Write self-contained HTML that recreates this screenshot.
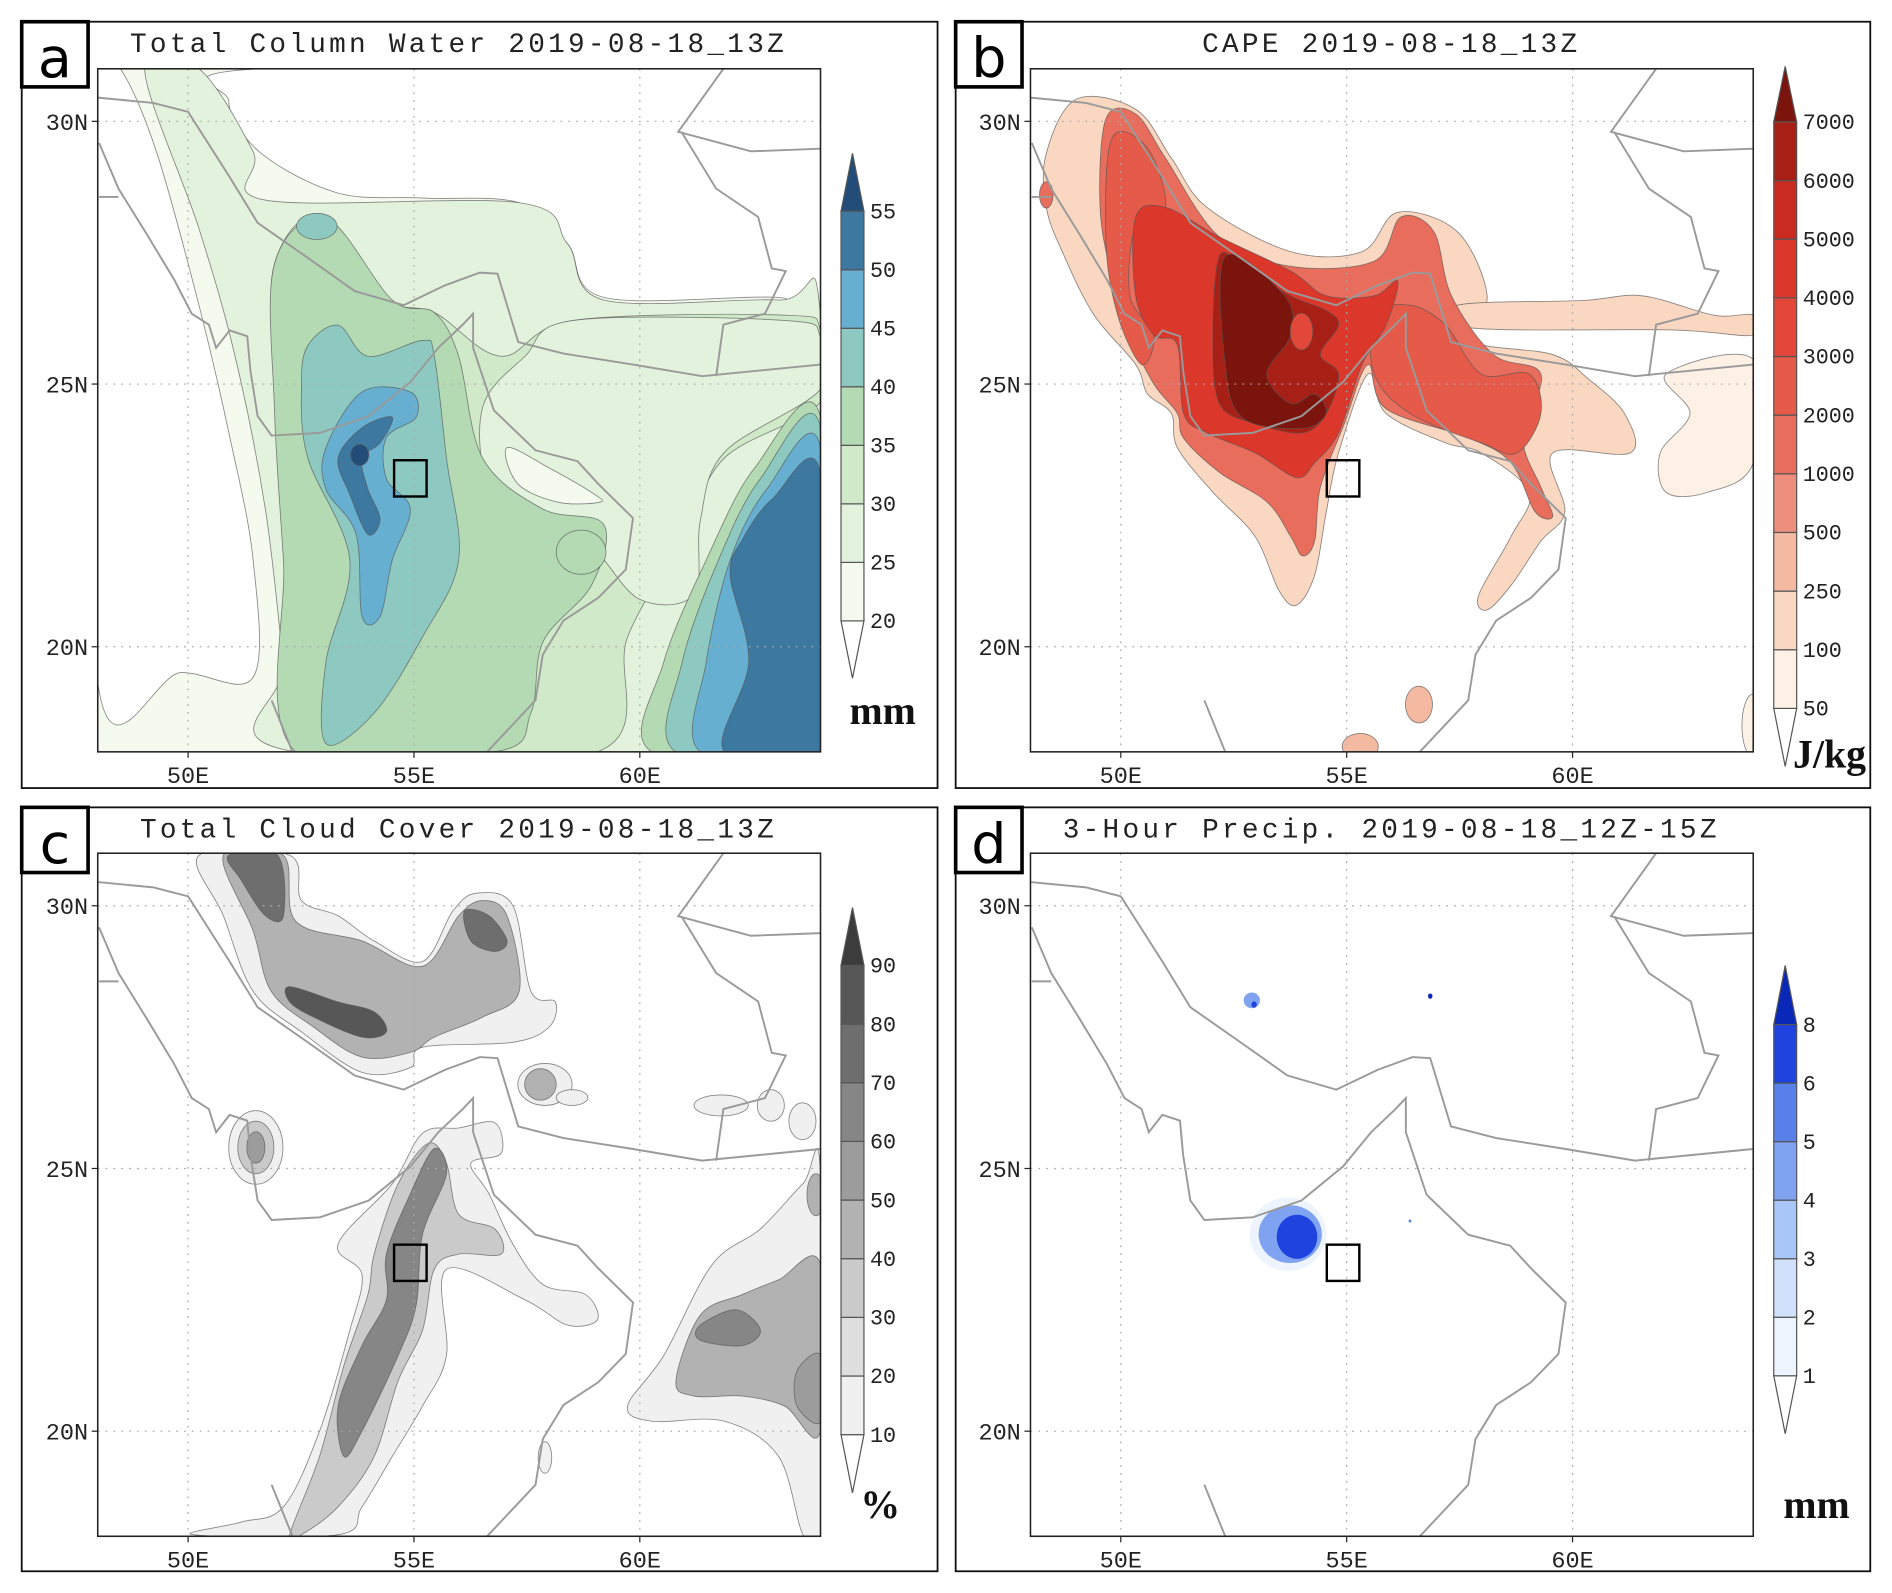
<!DOCTYPE html>
<html><head><meta charset="utf-8"><title>WRF fields 2019-08-18</title>
<style>
html,body{margin:0;padding:0;background:#fff;}
svg{display:block;}
.ttl{font-family:"Liberation Mono",monospace;font-size:23px;letter-spacing:2.7px;fill:#222;}
.tick{font-family:"Liberation Mono",monospace;font-size:19.5px;fill:#222;}
.cbl{font-family:"Liberation Mono",monospace;font-size:18px;fill:#222;}
.unit{font-family:"Liberation Serif",serif;font-size:33px;font-weight:bold;fill:#111;}
.let{font-family:"DejaVu Sans","Liberation Sans",sans-serif;font-size:46px;fill:#000;}
</style></head>
<body>
<svg id="fig" width="1892" height="1593" viewBox="0 0 1568 1320" preserveAspectRatio="none" xmlns="http://www.w3.org/2000/svg"></svg>
<script>
// ---------- data ----------
const lonTicks=[50,55,60];
const latTicks=[20,25,30];
const lonTickLabels=["50E","55E","60E"];
const latTickLabels=["20N","25N","30N"];
const studyBox=[[54.56,23.55],[55.28,22.86]];

const tcwLevels=[20,25,30,35,40,45,50,55];
const tcwColors=["#f5faef","#e3f2dc","#d0e9c8","#b4dab3","#8ec9c1","#67afd0","#3c789f","#224d78"];
const capeLevels=[50,100,250,500,1000,2000,3000,4000,5000,6000,7000];
const capeColors=["#fdf0e5","#f9d7c0","#f4baa1","#ee8e7d","#e96d5d","#e55a48","#e3473a","#dc372b","#c92b20","#a81f16","#7c140e"];
const cldLevels=[10,20,30,40,50,60,70,80,90];
const cldColors=["#f0f0f0","#dedede","#cacaca","#b2b2b2","#9c9c9c","#868686","#6e6e6e","#575757","#3c3c3c"];
const prcLevels=[1,2,3,4,5,6,8];
const prcColors=["#eef4fe","#d2e1fb","#a8c6f8","#7fa2f1","#5880ea","#1f43df","#0a28b8"];

// coastline & borders (lon,lat)
const coastIran=[[48,30.45],[49.23,30.35],[50,30.18],[50.92,28.94],[51.54,28.07],[52.62,27.42],[53.69,26.77],[54.77,26.5],[55.69,26.88],[56.46,27.12],[56.85,27.1],[57.31,25.8],[58.31,25.58],[59.85,25.37],[61.38,25.15],[64,25.37]];
const coastArabia=[[48.03,29.59],[48.46,28.72],[49.08,27.86],[49.69,26.99],[50.08,26.34],[50.46,26.13],[50.62,25.69],[50.92,26.02],[51.31,25.91],[51.38,25.26],[51.54,24.39],[51.85,24.02],[52.92,24.07],[54.0,24.39],[54.92,25.04],[55.54,25.69],[56.08,26.13],[56.31,26.34],[56.31,25.69],[56.77,24.5],[57.69,23.74],[58.62,23.53],[59.08,23.1],[59.85,22.45],[59.69,21.47],[59.08,20.93],[58.31,20.5],[57.85,19.85],[57.69,18.98],[56.62,18.0]];
const border1=[[61.85,31.0],[60.85,29.8],[62.46,29.43],[64,29.48]];
const border2=[[60.92,29.8],[61.69,28.72],[62.62,28.18],[62.92,27.2],[63.23,27.15],[62.77,26.34],[61.85,26.13],[61.69,25.15]];
const border3=[[51.85,18.98],[52.31,18.0]];
const border4=[[48.03,28.56],[48.46,28.56]];

// TCW contour regions (lon,lat)
const tcwWhiteNE=[[51.58,31],[64,31],[64,26.36],[63.07,26.65],[59.2,26.65],[58.4,27.67],[57.33,28.45],[55.19,28.54],[53.3,28.64],[51.58,29.42],[50.9,30.39]];
const tcwWhiteW=[[48,31],[48.5,31],[49.3,29.42],[50.24,26.5],[50.9,24.08],[51.44,21.65],[51.44,19.42],[49.84,19.51],[48,19.32]];
const tcw25=[[49.04,31],[50.24,31],[51.44,29.42],[51.71,28.5],[57.33,28.45],[58.4,27.67],[59.2,26.6],[63.07,26.6],[64,26.31],[64,18],[52.38,18],[52.11,19.71],[51.71,22.62],[51.04,25.53],[50.24,27.96]];
const tcw30=[[51.91,27.28],[52.78,28.16],[54.12,26.89],[54.39,26.5],[55.45,26.36],[56.93,25.53],[58.53,26.21],[63.2,26.31],[64,26.02],[64,24.66],[61.87,23.59],[60.94,22.04],[59.73,20.19],[59.06,18],[52.78,18],[52.51,19.71],[52.11,22.62],[51.91,25.53]];
const tcw25hole=[[56.52,24.56],[57.46,25.53],[58.53,26.21],[63.2,26.21],[64,25.9],[64,24.9],[61.87,23.7],[61.34,22.4],[61.2,21.0],[60.0,20.9],[58.9,21.9],[57.73,22.04],[56.66,23.0]];
const tcw20hole=[[57.06,23.79],[58.0,23.4],[59.0,22.9],[59.1,22.75],[58.2,22.75],[57.3,23.1]];
const tcw35=[[51.91,27.28],[53.05,28.16],[54.52,26.6],[55.45,26.36],[55.99,25.53],[56.52,23.59],[57.86,22.62],[59.2,22.33],[58.93,21.17],[57.86,20.1],[57.59,18.74],[56.79,18],[52.38,18],[52.11,21.65],[51.91,24.56]];
const tcw40=[[52.65,25.73],[53.32,26.12],[53.98,25.53],[55.19,25.83],[55.45,25.53],[55.72,23.59],[55.99,21.65],[55.19,20.19],[54.12,18.74],[53.05,18.16],[53.05,19.71],[53.58,21.65],[52.65,23.59],[52.51,24.95]];
const tcw45=[[53.05,23.79],[53.85,24.85],[54.92,24.85],[55.05,24.37],[54.39,23.98],[54.39,23.2],[54.92,22.62],[54.52,21.65],[54.25,20.58],[53.85,20.58],[53.72,22.14],[53.05,23.0]];
const tcw50=[[53.32,23.59],[53.85,24.17],[54.52,24.37],[54.25,23.88],[53.85,23.59],[53.98,23.0],[54.25,22.43],[53.98,22.14],[53.58,22.9]];
const tcwE35=[[64,24.37],[62.54,23.4],[61.47,21.65],[60.53,19.71],[60.27,18],[64,18]];
const tcwE40=[[64,24.17],[62.67,23.2],[61.74,21.65],[60.94,19.71],[60.8,18],[64,18]];
const tcwE45=[[64,23.79],[62.81,23.0],[62.0,21.65],[61.47,19.71],[61.34,18],[64,18]];
const tcwE50=[[64,23.3],[62.94,22.82],[62.27,22.04],[62.0,21.36],[62.41,19.71],[61.87,18],[64,18]];
// blobs: [lon, lat, rLon, rLat, levelIndex]
const tcwBlobs=[[58.7,21.8,0.55,0.42,3],[52.85,28.0,0.45,0.25,4],[53.8,23.65,0.2,0.2,7]];

// CAPE regions
const capeEnv=[[48.35,29.39],[49.01,30.42],[50.33,30.23],[51.12,29.3],[51.91,28.36],[53.76,27.52],[55.34,27.52],[56.13,28.27],[57.45,27.9],[58.11,26.68],[57.72,25.84],[59.56,25.56],[60.36,25.09],[61.15,24.44],[61.28,23.69],[59.56,23.69],[59.83,22.57],[59.3,22.01],[58.64,21.17],[58.11,20.7],[57.92,20.98],[58.64,22.1],[59.04,22.94],[57.98,23.69],[57.19,23.88],[55.87,24.44],[55.47,25.19],[54.82,23.69],[54.55,22.57],[54.29,21.36],[53.89,20.79],[53.5,21.07],[52.97,22.1],[52.04,22.94],[51.25,23.79],[51.12,24.44],[50.59,24.81],[50.33,25.37],[49.41,26.31],[48.75,27.43],[48.35,28.36]];
const capeBand=[[57.45,26.5],[60.22,26.59],[61.54,26.68],[63.13,26.31],[64,26.31],[64,25.93],[62.2,26.03],[57.72,26.07]];
const capeSE=[[62.07,25.19],[64,25.47],[64,23.5],[62.99,22.94],[62.07,22.94],[61.94,23.69],[62.6,24.44]];
const cape1000=[[49.67,30.05],[50.33,30.14],[50.99,29.3],[52.18,27.8],[53.76,27.24],[55.61,27.34],[56.2,28.18],[56.93,27.9],[57.32,26.68],[58.25,25.56],[59.3,25.19],[58.9,23.97],[59.3,23.04],[59.56,22.48],[59.17,22.57],[58.64,23.5],[57.72,23.97],[55.87,24.53],[55.47,25.37],[54.95,24.25],[54.42,23.04],[54.29,22.01],[54.02,21.73],[53.76,22.1],[53.23,22.76],[52.18,23.32],[51.39,23.97],[51.25,24.44],[50.73,25.0],[50.2,25.93],[49.8,27.06],[49.54,28.36]];
const cape2000E=[[55.61,26.31],[56.4,26.5],[57.19,26.12],[57.98,25.19],[59.04,25.19],[59.3,24.44],[58.77,23.69],[57.98,23.88],[56.4,24.44],[55.61,25.19]];
const cape2000W=[[49.8,29.67],[50.59,29.49],[50.99,28.36],[50.33,27.99],[50.2,26.68],[50.73,25.93],[50.46,25.37],[49.93,26.31],[49.67,27.71]];
const cape3000=[[50.33,28.18],[50.99,28.36],[52.18,27.8],[53.76,27.15],[54.55,26.68],[55.61,26.68],[56.13,26.96],[55.87,26.12],[55.34,25.37],[54.82,24.07],[54.29,23.5],[53.89,23.22],[52.97,23.69],[51.91,24.07],[51.39,24.44],[51.25,25.75],[50.73,25.93],[50.33,26.68]];
const cape6000=[[52.18,27.43],[52.7,27.24],[53.76,26.68],[54.55,26.4],[54.82,26.12],[54.42,25.56],[54.82,25.19],[54.55,24.44],[54.02,24.07],[52.97,24.25],[52.18,24.63],[52.04,25.93]];
const cape7000=[[52.31,27.43],[53.63,26.68],[53.76,25.93],[53.23,25.19],[53.76,24.63],[54.29,24.81],[54.55,24.44],[54.02,24.16],[52.7,24.35],[52.31,25.37]];
const capeBlobs=[[56.6,18.9,0.3,0.35,2],[55.3,18.1,0.4,0.25,2],[64,18.5,0.25,0.6,0],[54.0,26.0,0.25,0.35,6],[48.35,28.6,0.15,0.25,4]];

// cloud regions
const cldN10=[[50.24,30.96],[52.25,30.96],[52.51,30.1],[53.32,29.81],[54.12,29.33],[55.19,28.94],[55.86,29.9],[56.39,30.24],[57.19,30.0],[57.59,28.37],[58.13,28.17],[57.99,27.69],[57.19,27.4],[55.19,27.31],[54.92,26.92],[53.85,26.83],[52.51,27.6],[51.44,28.37],[50.78,29.81]];
const cldN40=[[50.78,30.96],[52.11,30.96],[52.38,29.71],[53.85,29.33],[55.19,28.85],[55.99,29.81],[56.52,30.1],[57.06,29.81],[57.33,28.37],[56.52,27.88],[55.45,27.5],[54.92,27.21],[53.85,27.12],[52.78,27.69],[51.84,28.37],[51.44,29.52]];
const cldN70a=[[52.25,28.46],[53.32,28.17],[54.12,27.98],[54.39,27.6],[53.85,27.5],[52.78,27.88],[52.25,28.17]];
const cldN70b=[[56.12,29.9],[56.66,29.81],[57.06,29.33],[56.79,29.13],[56.26,29.33]];
const cldN70c=[[50.9,30.96],[51.98,30.96],[52.11,29.81],[51.71,29.81],[51.18,30.48]];
const cldS10=[[53.32,23.56],[54.52,24.71],[55.19,25.67],[55.99,25.77],[56.79,25.87],[56.93,25.29],[56.26,25.1],[56.66,24.52],[57.19,23.56],[57.86,22.79],[58.8,22.6],[59.06,22.12],[58.4,22.02],[57.46,22.5],[55.72,23.08],[55.72,21.44],[55.19,20.48],[54.52,19.52],[53.85,18.56],[53.32,18.03],[50.11,18.03],[51.18,18.27],[52.11,18.56],[52.91,20.0],[53.58,21.92],[53.85,22.98]];
const cldS30=[[54.12,23.37],[54.65,24.71],[55.32,25.48],[55.72,25.1],[55.99,24.13],[56.79,23.85],[56.93,23.37],[55.99,23.37],[55.45,23.08],[55.19,21.92],[54.65,20.96],[54.12,19.52],[53.32,18.56],[52.51,18.03],[52.25,18.03],[52.91,19.52],[53.45,21.25],[53.98,22.6]];
const cldS60=[[54.39,23.37],[54.92,24.52],[55.45,25.38],[55.72,24.9],[55.19,23.75],[55.05,22.4],[54.65,21.44],[53.85,20.0],[53.45,19.52],[53.32,20.48],[53.85,21.63],[54.39,22.5]];
const cldE10=[[59.73,20.48],[60.53,21.44],[61.6,23.17],[62.67,23.85],[63.61,24.71],[64,24.9],[64,18.03],[63.61,18.03],[63.07,19.52],[61.87,20.19],[60.27,20.19]];
const cldE40=[[60.8,20.96],[61.34,22.21],[62.27,22.6],[63.07,22.88],[64,23.17],[64,20.0],[63.2,20.48],[62.27,20.67],[61.2,20.67]];
const cldE60a=[[61.34,22.02],[62.14,22.31],[62.67,21.92],[62.27,21.63],[61.34,21.73]];
const cldE60b=[[63.48,21.15],[64,21.44],[64,20.19],[63.48,20.48]];
const cldBlobs=[[51.5,25.4,0.6,0.7,0],[51.5,25.4,0.4,0.5,2],[51.5,25.4,0.2,0.3,4],[57.9,26.6,0.6,0.4,0],[57.8,26.6,0.35,0.3,3],[58.5,26.35,0.35,0.15,0],[61.8,26.2,0.6,0.2,0],[62.9,26.2,0.3,0.3,0],[63.6,25.9,0.3,0.35,0],[63.9,24.5,0.2,0.4,3],[57.9,19.5,0.15,0.3,0]];

// precip blobs
const prcBlobs=[[53.7,23.75,0.85,0.7,0],[53.75,23.75,0.7,0.55,3],[53.9,23.7,0.45,0.42,5],[52.9,28.2,0.18,0.15,3],[52.95,28.12,0.06,0.06,5],[56.85,28.28,0.05,0.05,6],[56.4,24.0,0.03,0.03,4]];

// ---------- layout ----------
const panels={
 a:{x0:81,y0:57,w:599,h:566,ox:18,oy:18,ow:759,oh:635,title:"Total Column Water 2019-08-18_13Z",tx:380},
 b:{x0:854,y0:57,w:599,h:566,ox:792,oy:18,ow:758,oh:635,title:"CAPE 2019-08-18_13Z",tx:1153},
 c:{x0:81,y0:707,w:599,h:566,ox:18,oy:669,ow:759,oh:633,title:"Total Cloud Cover 2019-08-18_13Z",tx:380},
 d:{x0:854,y0:707,w:599,h:566,ox:792,oy:669,ow:758,oh:633,title:"3-Hour Precip. 2019-08-18_12Z-15Z",tx:1153}
};
const LON0=48,LON1=64,LAT0=18,LAT1=31;
const NS="http://www.w3.org/2000/svg";
const svg=document.getElementById('fig');
function mk(tag,attrs,parent){const e=document.createElementNS(NS,tag);for(const k in attrs)e.setAttribute(k,attrs[k]);(parent||svg).appendChild(e);return e;}
function X(p,lon){return p.x0+(lon-LON0)/(LON1-LON0)*p.w;}
function Y(p,lat){return p.y0+(LAT1-lat)/(LAT1-LAT0)*p.h;}
function smoothPath(p,pts){
 const P=pts.map(q=>[X(p,q[0]),Y(p,q[1])]);const n=P.length;
 let d="M"+P[0][0].toFixed(1)+","+P[0][1].toFixed(1);
 for(let i=0;i<n;i++){const p0=P[(i-1+n)%n],p1=P[i],p2=P[(i+1)%n],p3=P[(i+2)%n];
  const c1=[p1[0]+(p2[0]-p0[0])/6,p1[1]+(p2[1]-p0[1])/6],c2=[p2[0]-(p3[0]-p1[0])/6,p2[1]-(p3[1]-p1[1])/6];
  d+="C"+c1[0].toFixed(1)+","+c1[1].toFixed(1)+" "+c2[0].toFixed(1)+","+c2[1].toFixed(1)+" "+p2[0].toFixed(1)+","+p2[1].toFixed(1);}
 return d+"Z";}
function region(p,g,pts,fill,name){const e=mk('path',{d:smoothPath(p,pts),fill:fill,stroke:'#555','stroke-width':0.7,'stroke-opacity':0.7},g);
 
 }
function blob(p,g,b,colors,name){const e=mk('ellipse',{cx:X(p,b[0]),cy:Y(p,b[1]),rx:b[2]/(LON1-LON0)*p.w,ry:b[3]/(LAT1-LAT0)*p.h,fill:colors[b[4]],stroke:'#555','stroke-width':0.7,'stroke-opacity':0.7},g);
 
 }
function line(p,g,pts,name){const e=mk('polyline',{points:pts.map(q=>X(p,q[0]).toFixed(1)+","+Y(p,q[1]).toFixed(1)).join(" "),fill:'none',stroke:'#9a9a9a','stroke-width':1.6},g);
 
 }

function frame(key){
 const p=panels[key];
 const g=mk('g',{});
 
 
 const ob=mk('rect',{x:p.ox,y:p.oy,width:p.ow,height:p.oh,fill:'#fff',stroke:'#111','stroke-width':1.5},g);
 
 
 const lb=mk('rect',{x:p.ox,y:p.oy,width:55,height:54,fill:'#fff',stroke:'#000','stroke-width':3},g);
 
 
 const lt=mk('text',{x:p.ox+27.5,y:p.oy+46,'text-anchor':'middle',class:'let'},g);lt.textContent=key;
 
 
 const tt=mk('text',{x:p.tx,y:p.oy+25,'text-anchor':'middle',class:'ttl'},g);tt.textContent=p.title;
 
 
 const cid='clip'+key;const cp=mk('clipPath',{id:cid},g);mk('rect',{x:p.x0,y:p.y0,width:p.w,height:p.h},cp);
 const fg=mk('g',{'clip-path':'url(#'+cid+')'},g);
 
 
 return {p,g,fg};
}
function finish(f){
 const {p,g,fg}=f;
 line(p,fg,coastIran,'coastline-iran');line(p,fg,coastArabia,'coastline-arabia');
 line(p,fg,border1,'border');line(p,fg,border2,'border');line(p,fg,border3,'border');line(p,fg,border4,'border');
 lonTicks.forEach((v,i)=>{const x=X(p,v);
  const gl=mk('line',{x1:x,y1:p.y0,x2:x,y2:p.y0+p.h,stroke:'#aaa','stroke-width':1,'stroke-dasharray':'1.5,5'},g);
  
  
  mk('line',{x1:x,y1:p.y0+p.h,x2:x,y2:p.y0+p.h+5,stroke:'#222','stroke-width':1},g);
  const t=mk('text',{x:x,y:p.y0+p.h+26,'text-anchor':'middle',class:'tick'},g);t.textContent=lonTickLabels[i];
  
  });
 latTicks.forEach((v,i)=>{const y=Y(p,v);
  const gl=mk('line',{x1:p.x0,y1:y,x2:p.x0+p.w,y2:y,stroke:'#aaa','stroke-width':1,'stroke-dasharray':'1.5,5'},g);
  
  
  mk('line',{x1:p.x0-5,y1:y,x2:p.x0,y2:y,stroke:'#222','stroke-width':1},g);
  const t=mk('text',{x:p.x0-8,y:y+7,'text-anchor':'end',class:'tick'},g);t.textContent=latTickLabels[i];
  
  });
 const sb=mk('rect',{x:X(p,studyBox[0][0]),y:Y(p,studyBox[0][1]),width:X(p,studyBox[1][0])-X(p,studyBox[0][0]),height:Y(p,studyBox[1][1])-Y(p,studyBox[0][1]),fill:'none',stroke:'#000','stroke-width':2},g);
 
 
 const mb=mk('rect',{x:p.x0,y:p.y0,width:p.w,height:p.h,fill:'none',stroke:'#222','stroke-width':1.3},g);
 
 
}
function colorbar(levels,colors,x,yTop,step,tipTop,tipBot,unit,ux,uy){
 const g=mk('g',{});
 
 
 const w=19,n=levels.length,yBot=yTop+step*(n-1);
 const tt=mk('path',{d:`M${x},${yTop}L${x+w/2},${tipTop}L${x+w},${yTop}Z`,fill:colors[n-1],stroke:'#555','stroke-width':1},g);
 
 
 const tb=mk('path',{d:`M${x},${yBot}L${x+w/2},${tipBot}L${x+w},${yBot}Z`,fill:'#fff',stroke:'#555','stroke-width':1},g);
 
 
 for(let i=0;i<n-1;i++){const y=yTop+step*(n-2-i);
  const r=mk('rect',{x:x,y:y,width:w,height:step,fill:colors[i],stroke:'#555','stroke-width':1},g);
  
  }
 levels.forEach((v,i)=>{const y=yBot-step*i;
  const t=mk('text',{x:x+w+5,y:y+6,class:'cbl'},g);t.textContent=v;
  
  });
 const u=mk('text',{x:ux,y:uy,class:'unit'},g);u.textContent=unit;
 
 
}

// ---------- panel a ----------
let f=frame('a');
mk('rect',{x:f.p.x0,y:f.p.y0,width:f.p.w,height:f.p.h,fill:tcwColors[0]},f.fg);
region(f.p,f.fg,tcwWhiteNE,'#ffffff','tcw-below-20-ne');
region(f.p,f.fg,tcwWhiteW,'#ffffff','tcw-below-20-w');
region(f.p,f.fg,tcw25,tcwColors[1],'tcw-25');
region(f.p,f.fg,tcw30,tcwColors[2],'tcw-30');
region(f.p,f.fg,tcw25hole,tcwColors[1],'tcw-25-hole');
region(f.p,f.fg,tcw20hole,tcwColors[0],'tcw-20-hole');
region(f.p,f.fg,tcw35,tcwColors[3],'tcw-35');
region(f.p,f.fg,tcw40,tcwColors[4],'tcw-40');
region(f.p,f.fg,tcw45,tcwColors[5],'tcw-45');
region(f.p,f.fg,tcw50,tcwColors[6],'tcw-50');
region(f.p,f.fg,tcwE35,tcwColors[3],'tcw-east-35');
region(f.p,f.fg,tcwE40,tcwColors[4],'tcw-east-40');
region(f.p,f.fg,tcwE45,tcwColors[5],'tcw-east-45');
region(f.p,f.fg,tcwE50,tcwColors[6],'tcw-east-50');
tcwBlobs.forEach(b=>blob(f.p,f.fg,b,tcwColors,'tcw-blob'));
finish(f);
colorbar(tcwLevels,tcwColors,697,175,48.5,127,562,'mm',704,600);

// ---------- panel b ----------
f=frame('b');
region(f.p,f.fg,capeEnv,capeColors[1],'cape-100');
region(f.p,f.fg,capeBand,capeColors[1],'cape-band-east');
region(f.p,f.fg,capeSE,capeColors[0],'cape-se');
region(f.p,f.fg,cape1000,capeColors[4],'cape-1000');
region(f.p,f.fg,cape2000W,capeColors[5],'cape-2000-w');
region(f.p,f.fg,cape2000E,capeColors[5],'cape-2000-e');
region(f.p,f.fg,cape3000,capeColors[7],'cape-3000');
region(f.p,f.fg,cape6000,capeColors[9],'cape-6000');
region(f.p,f.fg,cape7000,capeColors[10],'cape-7000');
capeBlobs.forEach(b=>blob(f.p,f.fg,b,capeColors,'cape-blob'));
finish(f);
colorbar(capeLevels,capeColors,1470,101,48.6,55,635,'J/kg',1486,636);

// ---------- panel c ----------
f=frame('c');
region(f.p,f.fg,cldN10,cldColors[0],'cloud-north-10');
region(f.p,f.fg,cldN40,cldColors[3],'cloud-north-40');
region(f.p,f.fg,cldN70a,cldColors[7],'cloud-north-80');
region(f.p,f.fg,cldN70b,cldColors[6],'cloud-north-70');
region(f.p,f.fg,cldN70c,cldColors[6],'cloud-north-70');
region(f.p,f.fg,cldS10,cldColors[0],'cloud-south-10');
region(f.p,f.fg,cldS30,cldColors[2],'cloud-south-30');
region(f.p,f.fg,cldS60,cldColors[5],'cloud-south-60');
region(f.p,f.fg,cldE10,cldColors[0],'cloud-east-10');
region(f.p,f.fg,cldE40,cldColors[3],'cloud-east-40');
region(f.p,f.fg,cldE60a,cldColors[5],'cloud-east-60');
region(f.p,f.fg,cldE60b,cldColors[4],'cloud-east-50');
cldBlobs.forEach(b=>blob(f.p,f.fg,b,cldColors,'cloud-blob'));
finish(f);
colorbar(cldLevels,cldColors,697,800,48.6,752,1237,'%',713,1258);

// ---------- panel d ----------
f=frame('d');
prcBlobs.forEach(b=>{const e=mk('ellipse',{cx:X(f.p,b[0]),cy:Y(f.p,b[1]),rx:b[2]/(LON1-LON0)*f.p.w,ry:b[3]/(LAT1-LAT0)*f.p.h,fill:prcColors[b[4]]},f.fg);
 
 });
finish(f);
colorbar(prcLevels,prcColors,1470,849,48.5,800,1188,'mm',1478,1258);
</script>
</body></html>
